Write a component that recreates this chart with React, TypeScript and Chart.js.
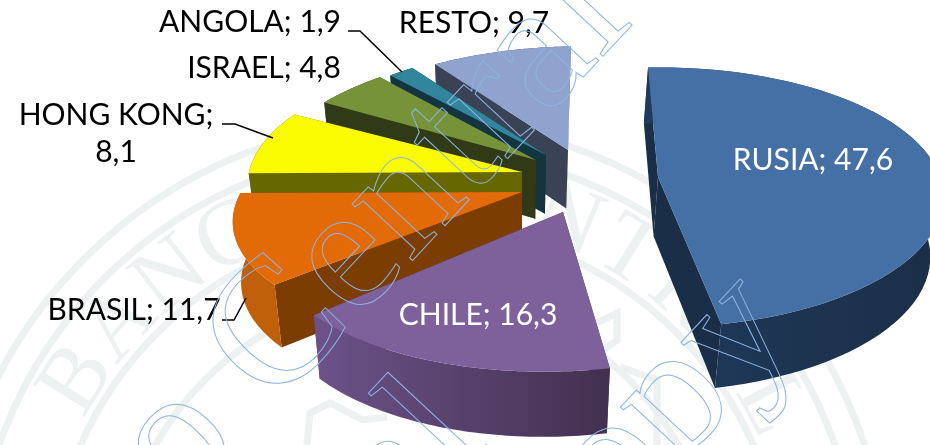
import React, { useEffect, useRef } from "react";
import { Chart, registerables } from "chart.js";

Chart.register(...registerables);

const categories = ["RUSIA", "CHILE", "BRASIL", "HONG KONG", "ISRAEL", "ANGOLA", "RESTO"];
const shares = [47.6, 16.3, 11.7, 8.1, 4.8, 1.9, 9.7];
const topColors = ["#4570A5", "#7E609B", "#E26B08", "#FBFB00", "#76933A", "#31859C", "#8FA3CE"];
const sideColors = ["#1B2E47", "#4F3A68", "#7C3D03", "#676700", "#313A17", "#143440", "#3A4256"];
const rimLeft = ["#1F3A5C", "#6C5289", "#C0600A", "#676700", "#313A17", "#143440", "#3A4256"];
const rimRight = ["#1B2E47", "#42304F", "#C0600A", "#676700", "#313A17", "#143440", "#3A4256"];

// exploded placement of each slice on the tilted plane
const apexX = [658, 563, 522, 522, 536, 546, 568];
const apexY = [177, 212, 192, 172, 160, 155, 150];
const radiusX = [282, 291, 281, 273, 270, 252, 270];
const radiusY = [130, 138, 124, 130, 130, 125, 123];
const skew = [0, -0.118, -0.2, 0.1, -0.13, 0, -0.12];
const PERSPECTIVE = 0.157;

const labelX = [813, 478, 134, 116, 264, 250, 474];
const labelY = [170, 325, 320, 125, 78, 32, 33];
const labelColor = ["#fff", "#fff", "#000", "#000", "#000", "#000", "#000"];

const leaderLines: number[][][] = [
  [[348, 31], [360, 31], [402, 72]],
  [[222, 124], [235, 124], [273, 138]],
  [[222, 320], [234, 320], [246, 298]],
];

const SEAL_X = 417;
const SEAL_Y = 592;
const sealBands = [471, 443, 367, 300];
const sealLetters = "BANCO CENTRAL";
const sealEmblem: number[][][] = [
  [[582, 330], [617, 313], [617, 340], [590, 360]],
  [[620, 367], [657, 380], [657, 445]],
  [[307, 445], [310, 413], [330, 403], [363, 420], [387, 417]],
];

const watermarkWords = ["Banco Central", "Central", "Copy"];
const watermarkStartX = [-71, 130, 535];
const watermarkStartY = [779, 832, 620];

const fmt = (v: number) => String(v).replace(".", ",");

const piePlugin = {
  id: "tiltedPie",
  beforeDraw(chart: any) {
    const ctx = chart.ctx;
    ctx.save();
    ctx.fillStyle = "#fff";
    ctx.fillRect(0, 0, chart.width, chart.height);
    ctx.strokeStyle = "#EDF1F2";
    ctx.lineWidth = 7;
    sealBands.forEach((r) => {
      ctx.beginPath();
      ctx.arc(SEAL_X, SEAL_Y, r, 0, Math.PI * 2);
      ctx.stroke();
    });
    sealEmblem.forEach((path) => {
      ctx.beginPath();
      path.forEach((p, k) => (k ? ctx.lineTo(p[0], p[1]) : ctx.moveTo(p[0], p[1])));
      ctx.stroke();
    });
    ctx.fillStyle = "#EDF1F2";
    ctx.font = "92px 'Liberation Serif'";
    ctx.textAlign = "center";
    ctx.textBaseline = "alphabetic";
    Array.from(sealLetters).forEach((ch, i) => {
      const a = ((-58 + i * 10) * Math.PI) / 180;
      ctx.save();
      ctx.translate(SEAL_X + 375 * Math.sin(a), SEAL_Y - 375 * Math.cos(a));
      ctx.rotate(a);
      ctx.fillText(ch, 0, 0);
      ctx.restore();
    });
    ctx.restore();
  },
  beforeDatasetsDraw(chart: any) {
    const ctx = chart.ctx;
    const arcs = chart.getDatasetMeta(0).data;
    const order = [6, 5, 4, 3, 2, 1, 0];
    order.forEach((i) => {
      const { startAngle, endAngle } = arcs[i].getProps(["startAngle", "endAngle"], true);
      const t0 = startAngle + Math.PI / 2;
      const t1 = endAngle + Math.PI / 2;
      const top = (t: number) => {
        const s = 1 - PERSPECTIVE * Math.cos(t);
        const y = -radiusY[i] * Math.cos(t) * s;
        return [apexX[i] + radiusX[i] * Math.sin(t) * s + skew[i] * y, apexY[i] + y];
      };
      const down = (p: number[]) => [p[0] + (510 - p[0]) * 0.03, p[1] + 55.5 + 0.03 * (p[1] - 50)];
      const poly = (pts: number[][], fill: any) => {
        ctx.beginPath();
        pts.forEach((p, k) => (k ? ctx.lineTo(p[0], p[1]) : ctx.moveTo(p[0], p[1])));
        ctx.closePath();
        ctx.fillStyle = fill;
        ctx.fill();
      };
      const n = 60;
      const rim: number[][] = [];
      for (let k = 0; k <= n; k++) rim.push(top(t0 + ((t1 - t0) * k) / n));
      const apex = [apexX[i], apexY[i]];
      poly([rim[0], apex, down(apex), down(rim[0])], sideColors[i]);
      poly([rim[n], apex, down(apex), down(rim[n])], sideColors[i]);
      const xs = rim.map((p) => p[0]);
      const grad = ctx.createLinearGradient(Math.min(...xs), 0, Math.max(...xs), 0);
      grad.addColorStop(0, i === 1 ? rimLeft[i] : rimLeft[i]);
      grad.addColorStop(1, rimRight[i]);
      poly([...rim, ...rim.slice().reverse().map(down)], grad);
      poly([apex, ...rim], topColors[i]);
    });

    ctx.save();
    ctx.strokeStyle = "#000";
    ctx.lineWidth = 1.5;
    leaderLines.forEach((line) => {
      ctx.beginPath();
      line.forEach((p, k) => (k ? ctx.lineTo(p[0], p[1]) : ctx.moveTo(p[0], p[1])));
      ctx.stroke();
    });
    ctx.font = "30px Lato";
    ctx.textAlign = "center";
    ctx.textBaseline = "alphabetic";
    categories.forEach((c, i) => {
      ctx.fillStyle = labelColor[i];
      if (c === "HONG KONG") {
        ctx.fillText(`${c};`, labelX[i], labelY[i]);
        ctx.fillText(fmt(shares[i]), labelX[i], labelY[i] + 37);
      } else {
        ctx.fillText(`${c}; ${fmt(shares[i])}`, labelX[i], labelY[i]);
      }
    });
    ctx.restore();
    return false;
  },
  afterDraw(chart: any) {
    const ctx = chart.ctx;
    watermarkWords.forEach((word, i) => {
      ctx.save();
      ctx.strokeStyle = "#8DB4E2";
      ctx.lineWidth = 1;
      ctx.font = "180px 'Liberation Serif'";
      ctx.textBaseline = "alphabetic";
      ctx.textAlign = "left";
      ctx.translate(watermarkStartX[i], watermarkStartY[i]);
      ctx.rotate((-47 * Math.PI) / 180);
      ctx.strokeText(word, 0, 0);
      ctx.restore();
    });
  },
};

export default function App() {
  const ref = useRef<HTMLCanvasElement>(null);
  useEffect(() => {
    const chart = new Chart(ref.current!, {
      type: "pie",
      data: {
        labels: categories,
        datasets: [{ data: shares, backgroundColor: topColors, borderWidth: 0 }],
      },
      options: {
        animation: false,
        responsive: false,
        rotation: -2.4,
        plugins: { legend: { display: false }, tooltip: { enabled: false } },
      },
      plugins: [piePlugin],
    } as any);
    return () => chart.destroy();
  }, []);
  return (
    <div style={{ position: "fixed", left: 0, top: 0, width: 930, height: 445 }}>
      <canvas ref={ref} width={930} height={445} style={{ display: "block" }} />
    </div>
  );
}
